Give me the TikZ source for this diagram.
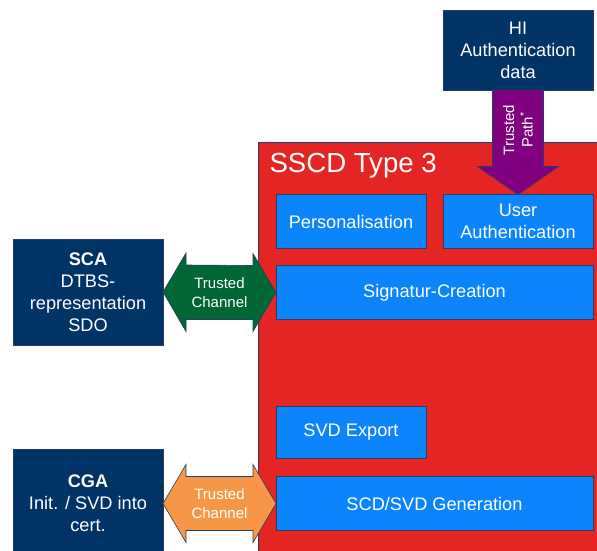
\documentclass[tikz,border=0pt]{standalone}
\usepackage{fontspec}
\setmainfont{Liberation Sans}
\usetikzlibrary{calc}

\definecolor{navy}{RGB}{0,51,102}
\definecolor{sscdred}{RGB}{228,37,36}
\definecolor{funcblue}{RGB}{12,133,252}
\definecolor{tcgreen}{RGB}{0,102,51}
\definecolor{tcorange}{RGB}{247,150,70}
\definecolor{tppurple}{RGB}{128,0,128}
\definecolor{rim}{RGB}{40,60,100}

\begin{document}
\begin{tikzpicture}[x=1pt,y=-1pt,
    box/.style={draw=rim, line width=0.6pt, text=white, align=center, outer sep=0pt,
        font=\fontsize{18.2}{22}\selectfont},
    extbox/.style={box, fill=navy, minimum width=150pt},
    funcbox/.style={box, fill=funcblue, minimum height=54pt},
    chan/.style={draw=rim, line width=0.6pt, line join=miter},
    chantext/.style={text=white, align=center, font=\fontsize{15}{18.5}\selectfont}]
    \useasboundingbox (0,0) rectangle (597,551);

    % the device
    \draw[fill=sscdred, draw=rim, line width=0.6pt] (258,142) rectangle (602,556);
    \node[anchor=west, text=white, font=\fontsize{27.6}{32}\selectfont] (title) at (266,166) {SSCD Type 3};

    \node[funcbox, minimum width=150pt] (pers) at (351,221.5) {Personalisation};
    \node[funcbox, minimum width=150pt] (ua) at (518,221.5) {User\\Authentication};
    \node[funcbox, minimum width=317pt] (sig) at (434.5,292.5) {Signatur-Creation};
    \node[funcbox, minimum width=150pt, minimum height=52pt] (svd) at (351,432) {SVD Export};
    \node[funcbox, minimum width=317pt] (gen) at (434.5,503.5) {SCD/SVD Generation};

    % outside parties
    \node[extbox, minimum height=80pt] (hi) at (518,50) {HI\\Authentication\\data};
    \node[extbox, minimum height=106pt] (sca) at (88,292) {\textbf{SCA}\\DTBS-\\representation\\SDO};
    \node[extbox, minimum height=108pt] (cga) at (88,503) {\textbf{CGA}\\Init. / SVD into\\cert.};

    % trusted path
    \draw[chan, fill=tppurple] ($(hi.south)+(-25.5,0)$) -- ($(ua.north)+(-25.5,-28)$) -- ++(-15,0)
        -- (ua.north) -- ++(40.5,-28) -- ++(-15,0) -- ($(hi.south)+(25.5,0)$) -- cycle;
    \node[chantext, rotate=90] (tp) at (518,130) {Trusted\\Path\textsuperscript{*}};

    % trusted channels
    \draw[chan, fill=tcgreen] (sca.east) -- ++(23,-39) -- ++(0,12) -- ($(sig.west)+(-23,-27)$)
        -- ++(0,-12) -- (sig.west) -- ++(-23,39) -- ++(0,-12) -- ($(sca.east |- sig.west)+(23,27)$)
        -- ++(0,12) -- cycle;
    \node[chantext] (tc1) at ($(sca.east |- sig.west)!0.5!(sig.west)$) {Trusted\\Channel};

    \draw[chan, fill=tcorange] (cga.east |- gen.west) -- ++(23,-39) -- ++(0,12) -- ($(gen.west)+(-23,-27)$)
        -- ++(0,-12) -- (gen.west) -- ++(-23,39) -- ++(0,-12) -- ($(cga.east |- gen.west)+(23,27)$)
        -- ++(0,12) -- cycle;
    \node[chantext] (tc2) at ($(cga.east |- gen.west)!0.5!(gen.west)$) {Trusted\\Channel};
\end{tikzpicture}
\end{document}
